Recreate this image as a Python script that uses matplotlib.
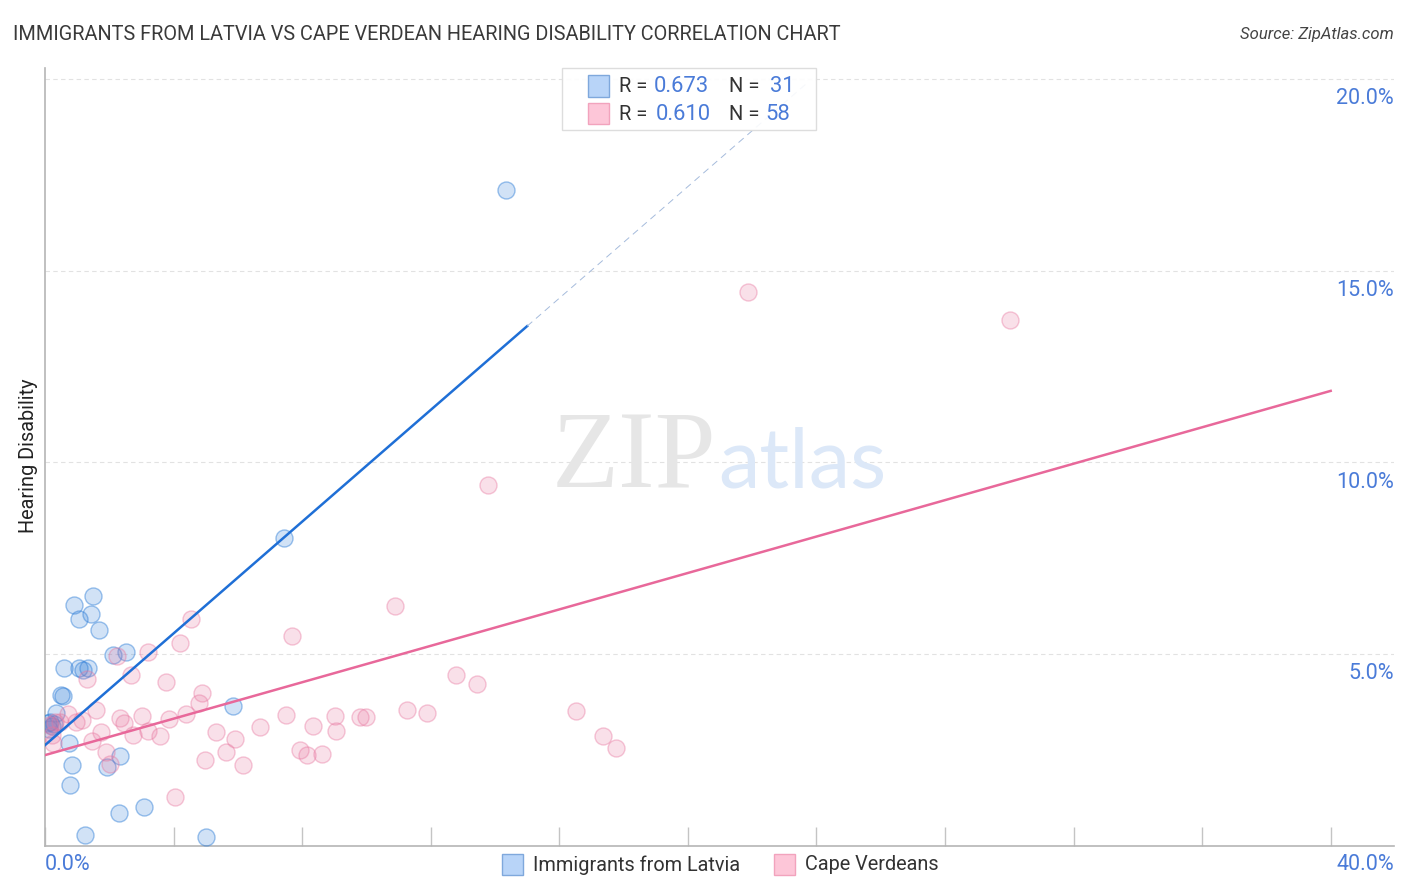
import matplotlib
matplotlib.use("Agg")
import matplotlib.pyplot as plt
from matplotlib.patches import Rectangle

plt.rcParams['font.family'] = ['Roboto', 'DejaVu Sans']

# -------------------------------------------------
# DATA
# -------------------------------------------------
latvia_x = [14.34, 7.44, 1.49, 0.90, 1.43, 1.06, 1.68, 2.52, 2.12, 0.59, 1.06, 1.18, 1.34,
            0.50, 0.56, 5.85, 0.34, 0.75, 2.33, 0.84, 1.93, 0.78, 3.08, 2.30, 1.24, 5.01,
            0.16, 0.22, 0.12, 0.28, 0.09]
latvia_y = [17.11, 8.03, 6.51, 6.28, 6.04, 5.91, 5.63, 5.05, 4.97, 4.63, 4.63, 4.58, 4.63,
            3.93, 3.90, 3.64, 3.46, 2.68, 2.34, 2.10, 2.05, 1.58, 1.01, 0.85, 0.27, 0.22,
            3.22, 3.12, 3.04, 3.17, 3.20]

cape_x = [4.54, 7.69, 4.20, 3.20, 2.24, 2.68, 1.31, 3.76, 4.88, 4.79, 7.50, 9.02, 8.34, 9.05,
          6.69, 5.32, 5.91, 7.93, 8.15, 8.62, 5.63, 4.98, 6.16, 4.04, 3.02, 2.33, 2.46, 2.74,
          3.20, 3.58, 3.86, 4.39, 1.59, 1.74, 1.46, 1.90, 2.02, 1.15, 0.96, 0.72,
          21.87, 30.02, 13.78, 10.89, 12.79, 13.44, 16.52, 11.26, 11.89, 9.80, 9.99, 17.36, 17.77,
          0.16, 0.31, 0.25, 0.22, 0.47]
cape_y = [5.91, 5.47, 5.29, 5.05, 4.95, 4.45, 4.35, 4.27, 3.98, 3.72, 3.41, 3.38, 3.12, 2.99,
          3.09, 2.96, 2.78, 2.49, 2.36, 2.39, 2.44, 2.23, 2.10, 1.27, 3.38, 3.33, 3.20, 2.89,
          2.99, 2.86, 3.30, 3.43, 3.54, 2.96, 2.73, 2.44, 2.13, 3.28, 3.22, 3.43,
          14.45, 13.72, 9.41, 6.25, 4.45, 4.22, 3.51, 3.54, 3.46, 3.36, 3.36, 2.86, 2.55,
          3.15, 3.22, 2.68, 2.89, 3.22]

latvia_fit_x = [0, 15.0]
latvia_fit_y = [2.62, 13.56]
latvia_dash_x = [15.0, 23.7]
latvia_dash_y = [13.56, 19.9]
cape_fit_x = [0, 40]
cape_fit_y = [2.36, 11.87]

x_ticks = [0, 4, 8, 12, 16, 20, 24, 28, 32, 36, 40]
y_ticks = [5, 10, 15, 20]
y_labels = ["5.0%", "10.0%", "15.0%", "20.0%"]

BLUE = "#2f7ed8"
PINK = "#e8769f"
TXT_BLUE = "#4a7bd8"
W, H = 1406, 892


def fx(px):
    return px / W


def fy(py):
    return 1 - py / H


# -------------------------------------------------
# AXES
# -------------------------------------------------
fig = plt.figure(figsize=(W / 100, H / 100), dpi=100)
ax = fig.add_axes([fx(45), fy(845.5), (1394 - 45) / W, (845.5 - 68) / H])
ax.set_xlim(0, 41.97)
ax.set_ylim(0, 20.3)

for s in ["top", "right"]:
    ax.spines[s].set_visible(False)
for s in ["left", "bottom"]:
    ax.spines[s].set_color("#b5b5b5")
    ax.spines[s].set_linewidth(1.2)

ax.set_xticks(x_ticks)
ax.set_xticklabels([])
ax.set_yticks(y_ticks)
ax.set_yticklabels([])
ax.tick_params(axis="x", direction="in", length=13.5, width=1.0, color="#c4c4c4")
ax.tick_params(axis="y", length=0)
ax.grid(axis="y", linestyle=(0, (4, 3)), color="#e2e2e2", linewidth=0.8)
ax.set_axisbelow(True)

# watermark
fig.text(fx(634), fy(461), "ZIP", family="Liberation Serif", fontsize=79, color="#e6e6e6",
         ha="center", va="center", zorder=0)
fig.text(fx(802), fy(465), "atlas", family="Lato", fontsize=60, color="#dce8f8",
         ha="center", va="center", zorder=0)

# -------------------------------------------------
# POINTS AND FITS
# -------------------------------------------------
ax.scatter(latvia_x, latvia_y, s=150, facecolor=BLUE + "38", edgecolor=BLUE + "78", linewidth=1.0, zorder=3)
ax.scatter(cape_x, cape_y, s=150, facecolor=PINK + "38", edgecolor=PINK + "68", linewidth=1.0, zorder=3)

ax.plot(latvia_fit_x, latvia_fit_y, color="#1f6fd6", linewidth=1.8, zorder=4)
ax.plot(latvia_dash_x, latvia_dash_y, color="#a5bbdc", linewidth=0.7, linestyle=(0, (7, 5)), zorder=4)
ax.plot(cape_fit_x, cape_fit_y, color="#e8689a", linewidth=1.8, zorder=4)

# -------------------------------------------------
# TEXT
# -------------------------------------------------
fig.text(fx(13), fy(34.5), "IMMIGRANTS FROM LATVIA VS CAPE VERDEAN HEARING DISABILITY CORRELATION CHART",
         fontsize=14.28, color="#3a3a3a", ha="left", va="center")
fig.text(fx(1394), fy(34.5), "Source: ZipAtlas.com", fontsize=12, style="italic", color="#444444",
         ha="right", va="center")
fig.text(fx(29), fy(456), "Hearing Disability", fontsize=14.3, color="#222222", rotation=90,
         ha="center", va="center")

for v, lab in zip(y_ticks, y_labels):
    py = 845.5 - v * 38.3 + 19.5
    fig.text(fx(1394), fy(py), lab, fontsize=15.5, color=TXT_BLUE, ha="right", va="center")
fig.text(fx(45), fy(865), "0.0%", fontsize=15.5, color=TXT_BLUE, ha="left", va="center")
fig.text(fx(1394), fy(865), "40.0%", fontsize=15.5, color=TXT_BLUE, ha="right", va="center")


def swatch(x0, y0, w, h, face, edge):
    fig.add_artist(Rectangle((fx(x0), fy(y0 + h)), w / W, h / H, transform=fig.transFigure,
                             facecolor=face, edgecolor=edge, linewidth=1.0, zorder=6))


# top legend
fig.add_artist(Rectangle((fx(561.5), fy(130)), 254 / W, 62.5 / H, transform=fig.transFigure,
                         facecolor="#ffffffe6", edgecolor="#dddddd", linewidth=1.0, zorder=5))
swatch(587.5, 75.5, 21.5, 21, "#b8d4f8", "#7fa8dc")
swatch(587.5, 103, 21.5, 21, "#fdc6d8", "#f2a3bd")
for py, r, n, rx, nx in [(87, "0.673", "31", 654, 770), (114, "0.610", "58", 655.5, 765)]:
    fig.text(fx(619), fy(py), "R =", fontsize=14.5, color="#333333", va="center", zorder=7)
    fig.text(fx(rx), fy(py), r, fontsize=15.8, color=TXT_BLUE, va="center", zorder=7)
    fig.text(fx(729), fy(py), "N =", fontsize=14.5, color="#333333", va="center", zorder=7)
    fig.text(fx(nx), fy(py), n, fontsize=15.8, color=TXT_BLUE, va="center", zorder=7)

# bottom legend
swatch(501.5, 854, 21.5, 21, "#b8d4f8", "#7fa8dc")
swatch(773.5, 854, 21.5, 21, "#fdc6d8", "#f2a3bd")
fig.text(fx(533), fy(865), "Immigrants from Latvia", fontsize=14.35, color="#333333", va="center")
fig.text(fx(805), fy(865), "Cape Verdeans", fontsize=14.35, color="#333333", va="center")

fig.savefig("out.png", dpi=100)
